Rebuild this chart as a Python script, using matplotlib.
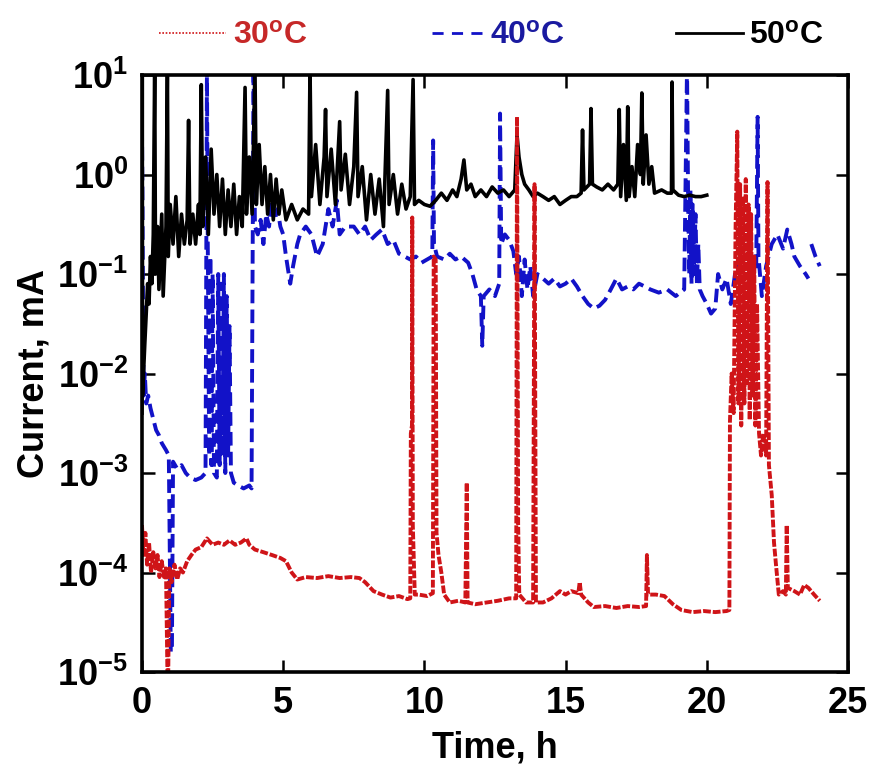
import numpy as np
import matplotlib
matplotlib.use('Agg')
import matplotlib.pyplot as plt
from matplotlib.lines import Line2D
from matplotlib.ticker import NullLocator

# Data ---------------------------------------------------------------------------------
# 30 C (red, dotted)
t30 = [0.00, 0.05, 0.12, 0.18, 0.25, 0.32, 0.40, 0.48, 0.55, 0.62, 0.70, 0.78, 0.85, 0.90, 0.93, 0.97,
       1.05, 1.15, 1.25, 1.35, 1.45, 1.60, 1.75, 1.90, 2.10, 2.30, 2.50, 2.70, 2.90, 3.10, 3.30, 3.50,
       3.70, 3.80, 4.00, 4.30, 4.60, 4.90, 5.10, 5.30, 5.50, 5.80, 6.20, 6.60, 7.00, 7.40, 7.70, 7.90,
       8.20, 8.50, 8.80, 9.10, 9.40, 9.50, 9.52, 9.56, 9.57, 9.59, 9.62, 9.66, 9.80, 10.10, 10.30, 10.33,
       10.40, 10.43, 10.50, 10.60, 10.70, 10.90, 11.20, 11.45, 11.50, 11.53, 11.80, 12.20, 12.60, 13.00,
       13.25, 13.28, 13.32, 13.36, 13.60, 13.85, 13.90, 13.95, 14.20, 14.50, 14.80, 15.00, 15.20, 15.45,
       15.50, 15.55, 15.80, 16.00, 16.40, 16.80, 17.20, 17.60, 17.85, 17.88, 17.92, 18.20, 18.50, 18.80,
       19.10, 19.50, 19.90, 20.30, 20.70, 20.80, 20.82, 20.88, 20.95, 21.02, 21.08, 21.12, 21.18, 21.22,
       21.28, 21.33, 21.38, 21.43, 21.48, 21.52, 21.57, 21.62, 21.68, 21.72, 21.78, 21.85, 21.92, 22.00,
       22.10, 22.15, 22.20, 22.30, 22.38, 22.45, 22.55, 22.70, 22.80, 22.83, 22.87, 23.10, 23.30, 23.45,
       23.60, 23.80, 24.00]
i30 = [3.0e-4, 1.5e-4, 2.5e-4, 1.2e-4, 2.0e-4, 1.0e-4, 1.6e-4, 1.1e-4, 1.5e-4, 9e-5, 1.3e-4, 9e-5,
       1.1e-4, 1.0e-5, 1.0e-5, 1.1e-4, 8e-5, 1.2e-4, 8.5e-5, 1.1e-4, 1.0e-4, 1.3e-4, 1.5e-4, 1.7e-4,
       1.8e-4, 2.2e-4, 1.9e-4, 2.0e-4, 1.9e-4, 2.1e-4, 1.9e-4, 2.0e-4, 2.2e-4, 1.9e-4, 1.7e-4, 1.6e-4,
       1.5e-4, 1.4e-4, 1.3e-4, 1.0e-4, 8.5e-5, 9e-5, 8.8e-5, 9.2e-5, 8.8e-5, 9.0e-5, 8.8e-5, 8.0e-5,
       6.5e-5, 6.0e-5, 5.6e-5, 5.8e-5, 5.4e-5, 5.5e-5, 2.5e-3, 3.0e-3, 0.37, 3e-4, 1.5e-4, 6e-5,
       6.0e-5, 5.8e-5, 6.2e-5, 0.15, 0.14, 2.5e-4, 1.5e-4, 1.0e-4, 6e-5, 5.0e-5, 5.2e-5, 5.0e-5,
       8e-4, 5e-5, 4.8e-5, 5.0e-5, 5.2e-5, 5.5e-5, 5.5e-5, 3.8, 3e-4, 6e-5, 5e-5, 5.0e-5,
       0.8, 5e-5, 5.0e-5, 5.5e-5, 6.5e-5, 6.0e-5, 6.5e-5, 6.2e-5, 8e-5, 6e-5, 5.0e-5, 4.5e-5,
       4.6e-5, 4.4e-5, 4.6e-5, 4.5e-5, 4.6e-5, 1.5e-4, 6.0e-5, 6.0e-5, 5.8e-5, 4.8e-5, 4.2e-5, 4.0e-5,
       4.1e-5, 4.0e-5, 4.1e-5, 4.2e-5, 3.3e-3, 1.0e-2, 4e-3, 0.3, 2.7, 5e-3, 0.8, 3e-3,
       0.6, 5e-3, 0.9, 8e-3, 0.5, 3.4e-3, 0.4, 6e-3, 0.15, 3e-3, 0.05, 2.5e-3, 1.5e-3, 2.5e-3,
       1.5e-3, 0.84, 1.2e-3, 6e-4, 2e-4, 1.2e-4, 6e-5, 6.5e-5, 6e-5, 3e-4, 7e-5, 6.5e-5, 6e-5, 7.5e-5,
       7e-5, 6e-5, 5.2e-5]

# 40 C (blue, dashed)
t40 = [0.00, 0.02, 0.04, 0.06, 0.10, 0.15, 0.22, 0.30, 0.40, 0.50, 0.60, 0.70, 0.85, 0.95, 1.02, 1.06,
       1.10, 1.25, 1.40, 1.55, 1.70, 1.90, 2.10, 2.25, 2.30, 2.33, 2.38, 2.42, 2.46, 2.50, 2.55, 2.65,
       2.70, 2.75, 2.80, 2.85, 2.90, 2.95, 3.00, 3.05, 3.10, 3.15, 3.25, 3.40, 3.60, 3.80, 3.88, 3.95,
       4.00, 4.10, 4.20, 4.30, 4.40, 4.50, 4.60, 4.70, 4.80, 4.90, 5.00, 5.10, 5.25, 5.35, 5.50, 5.60,
       5.80, 6.00, 6.20, 6.40, 6.60, 6.75, 6.90, 7.00, 7.20, 7.50, 7.70, 7.90, 8.10, 8.30, 8.50, 8.70,
       8.90, 9.10, 9.30, 9.50, 9.70, 9.90, 10.10, 10.28, 10.31, 10.34, 10.45, 10.70, 10.90, 11.10, 11.30,
       11.55, 11.70, 11.85, 12.00, 12.05, 12.10, 12.30, 12.50, 12.65, 12.68, 12.72, 12.85, 13.00, 13.15,
       13.25, 13.35, 13.45, 13.55, 13.65, 13.75, 13.85, 14.00, 14.20, 14.40, 14.60, 14.80, 15.00, 15.20,
       15.40, 15.60, 15.80, 16.00, 16.20, 16.40, 16.60, 16.80, 17.00, 17.20, 17.40, 17.60, 17.80, 18.00,
       18.30, 18.60, 18.90, 19.20, 19.30, 19.34, 19.38, 19.42, 19.46, 19.50, 19.55, 19.60, 19.65, 19.70,
       19.75, 19.85, 20.00, 20.15, 20.30, 20.40, 20.55, 20.70, 20.85, 21.00, 21.20, 21.40, 21.60, 21.75,
       21.80, 21.83, 21.95, 22.10, 22.30, 22.50, 22.70, 22.85, 23.00, 23.10, 23.30, 23.50, 23.60, 23.65,
       23.70, 23.85, 24.00]
i40 = [3.0, 0.5, 0.03, 6e-3, 1.0e-2, 5e-3, 6e-3, 4.5e-3, 3.5e-3, 2.7e-3, 2.4e-3, 2.0e-3, 1.7e-3,
       1.5e-3, 1.6e-5, 1.6e-5, 1.3e-3, 1.1e-3, 1.2e-3, 1.0e-3, 9e-4, 8.5e-4, 9e-4, 1.0e-3, 12, 0.2,
       1.5e-3, 0.15, 1.2e-3, 0.1, 1.0e-3, 9e-4, 0.1, 1.2e-3, 0.08, 1.5e-3, 0.1, 1.0e-3, 0.06, 1.5e-3,
       0.03, 1.0e-3, 8e-4, 7.5e-4, 7e-4, 7.5e-4, 7e-4, 12, 0.3, 0.25, 0.35, 0.2, 0.4, 0.3, 0.55, 0.35,
       0.45, 0.3, 0.25, 0.15, 0.08, 0.12, 0.2, 0.25, 0.3, 0.25, 0.15, 0.2, 0.45, 0.3, 0.55, 0.25, 0.3,
       0.3, 0.25, 0.3, 0.22, 0.25, 0.28, 0.2, 0.22, 0.16, 0.15, 0.14, 0.15, 0.13, 0.14, 0.15, 2.2, 0.2,
       0.15, 0.14, 0.16, 0.14, 0.15, 0.13, 0.1, 0.07, 0.06, 0.019, 0.06, 0.07, 0.06, 0.08, 4.1, 0.2,
       0.25, 0.22, 0.17, 0.1, 0.15, 0.06, 0.14, 0.07, 0.12, 0.06, 0.1, 0.09, 0.08, 0.09, 0.075, 0.08,
       0.09, 0.075, 0.06, 0.05, 0.045, 0.048, 0.055, 0.07, 0.09, 0.07, 0.075, 0.07, 0.08, 0.075, 0.07,
       0.065, 0.07, 0.06, 0.07, 12, 0.5, 0.1, 0.7, 0.08, 0.5, 0.1, 0.4, 0.08, 0.2, 0.07, 0.06, 0.05,
       0.04, 0.045, 0.1, 0.07, 0.09, 0.05, 0.1, 0.15, 0.13, 0.1, 0.12, 3.8, 0.15, 0.06, 0.12, 0.2,
       0.25, 0.18, 0.28, 0.2, 0.15, 0.12, 0.1, 0.09, np.nan, 0.2, 0.15, 0.12]

# 50 C (black, solid)
t50 = [0.00, 0.01, 0.02, 0.06, 0.10, 0.15, 0.20, 0.25, 0.30, 0.35, 0.40, 0.45, 0.48, 0.55, 0.60, 0.70,
       0.75, 0.85, 0.90, 0.93, 1.00, 1.10, 1.20, 1.30, 1.40, 1.50, 1.60, 1.65, 1.70, 1.80, 1.90, 2.00,
       2.05, 2.10, 2.15, 2.25, 2.35, 2.45, 2.55, 2.65, 2.75, 2.85, 2.95, 3.05, 3.15, 3.25, 3.35, 3.45,
       3.55, 3.65, 3.70, 3.80, 3.90, 4.00, 4.05, 4.15, 4.25, 4.35, 4.45, 4.55, 4.65, 4.75, 4.85, 4.95,
       5.10, 5.30, 5.50, 5.70, 5.90, 5.95, 6.00, 6.15, 6.30, 6.45, 6.50, 6.55, 6.70, 6.85, 7.00, 7.05,
       7.20, 7.35, 7.50, 7.60, 7.65, 7.80, 7.95, 8.10, 8.25, 8.40, 8.55, 8.70, 8.75, 8.90, 9.05, 9.20,
       9.35, 9.50, 9.60, 9.65, 9.80, 10.00, 10.20, 10.40, 10.60, 10.80, 11.00, 11.15, 11.30, 11.40, 11.50,
       11.65, 11.80, 12.00, 12.20, 12.40, 12.60, 12.80, 13.00, 13.20, 13.28, 13.35, 13.45, 13.55, 13.70,
       13.85, 14.00, 14.20, 14.40, 14.60, 14.80, 15.00, 15.20, 15.40, 15.55, 15.60, 15.65, 15.85, 15.90,
       15.95, 16.10, 16.30, 16.50, 16.70, 16.85, 16.90, 16.95, 17.05, 17.15, 17.20, 17.25, 17.35, 17.45,
       17.55, 17.65, 17.70, 17.75, 17.85, 17.95, 18.05, 18.15, 18.40, 18.60, 18.75, 18.77, 18.80, 19.00,
       19.20, 19.40, 19.60, 19.80, 20.00]
i50 = [4e-3, 12, 6e-3, 0.011, 0.02, 0.04, 0.08, 0.05, 0.15, 0.08, 0.25, 12, 0.1, 0.3, 0.07, 0.4,
       0.06, 0.3, 12, 0.15, 0.5, 0.2, 0.6, 0.15, 0.4, 0.2, 0.35, 3.5, 0.2, 0.4, 0.2, 0.5, 0.25, 8,
       0.3, 1.5, 0.25, 1.8, 0.4, 1.0, 0.3, 0.9, 0.25, 0.7, 0.3, 0.8, 0.25, 0.6, 0.3, 7.5, 0.4, 1.5,
       0.4, 12, 0.5, 2.0, 0.5, 1.2, 0.4, 1.0, 0.35, 0.9, 0.4, 0.7, 0.35, 0.5, 0.35, 0.45, 0.4, 12,
       0.6, 2.0, 0.5, 1.5, 4.5, 0.6, 1.8, 0.5, 3.4, 0.7, 1.6, 0.5, 1.2, 6.7, 0.6, 1.2, 0.35, 1.0,
       0.4, 0.9, 0.3, 7, 0.5, 1.0, 0.4, 0.8, 0.45, 0.6, 9, 0.5, 0.55, 0.5, 0.48, 0.55, 0.65, 0.55,
       0.7, 0.6, 0.9, 1.4, 0.7, 0.8, 0.6, 0.7, 0.6, 0.75, 0.65, 0.7, 0.6, 0.7, 2.5, 1.5, 1.0, 0.8,
       0.7, 0.6, 0.65, 0.6, 0.55, 0.6, 0.5, 0.55, 0.6, 0.6, 0.65, 2.8, 0.7, 0.8, 4.6, 0.8, 0.75, 0.7,
       0.8, 0.7, 0.8, 4.5, 0.6, 2.0, 0.55, 4.8, 0.6, 1.2, 0.6, 2.0, 1.0, 6.6, 0.8, 2.5, 0.8, 1.2,
       0.65, 0.7, 0.65, 0.65, 8.5, 0.7, 0.62, 0.6, 0.62, 0.6, 0.6, 0.62]

labels = ['30$^{o}$C', '40$^{o}$C', '50$^{o}$C']
yticks = [1e-5, 1e-4, 1e-3, 1e-2, 1e-1, 1e0, 1e1]
ytick_labels = ['$10^{-5}$', '$10^{-4}$', '$10^{-3}$', '$10^{-2}$', '$10^{-1}$', '$10^{0}$', '$10^{1}$']
xticks = [0, 5, 10, 15, 20, 25]

red = '#cf1418'
blue = '#1212c8'
black = '#000000'

# Figure ------------------------------------------------------------------------------
plt.rcParams['font.family'] = ['Liberation Sans', 'DejaVu Sans']
plt.rcParams['font.weight'] = 'bold'
plt.rcParams['mathtext.fontset'] = 'custom'
plt.rcParams['mathtext.rm'] = 'Liberation Sans:bold'
plt.rcParams['mathtext.bf'] = 'Liberation Sans:bold'
plt.rcParams['mathtext.default'] = 'regular'

fig = plt.figure(figsize=(8.7, 7.64), dpi=100)
ax = fig.add_axes([0.1632, 0.1204, 0.8115, 0.7814])

ax.plot(t40, i40, color=blue, lw=2.8, linestyle=(0, (3.5, 1.6)))
ax.plot(t50, i50, color=black, lw=2.6)
ax.plot(t30, i30, color=red, lw=2.8, linestyle=(0, (2.0, 0.5)))

ax.set_yscale('log')
ax.set_xlim(0, 25)
ax.set_ylim(1e-5, 1e1)
ax.set_xticks(xticks)
ax.set_xticklabels([str(x) for x in xticks])
ax.set_yticks(yticks)
ax.set_yticklabels(ytick_labels)
ax.yaxis.set_minor_locator(NullLocator())
ax.xaxis.set_minor_locator(NullLocator())
ax.tick_params(direction='in', length=9, width=1.8, top=True, right=True,
               labelsize=26, pad=10)
for s in ax.spines.values():
    s.set_linewidth(2.6)

ax.set_xlabel('Time, h', fontsize=26, fontweight='bold', labelpad=7)
ax.set_ylabel('Current, mA', fontsize=26, fontweight='bold', labelpad=4)

# Legend: three separate entries placed across the top
handles = [Line2D([], [], color=red, lw=1.2, linestyle=(0, (1, 1))),
           Line2D([], [], color=blue, lw=2.0, linestyle=(0, (4, 3))),
           Line2D([], [], color=black, lw=2.0)]
lcolors = ['#c62828', '#1a1aa0', black]
xpos = [0.183, 0.497, 0.777]
hlen = [2.1, 1.6, 2.1]
for h, lab, c, x, hl in zip(handles, labels, lcolors, xpos, hlen):
    fig.legend(handles=[h], labels=[lab], loc='center left', bbox_to_anchor=(x, 0.953),
               frameon=False, fontsize=23, handlelength=hl, handletextpad=0.2,
               labelcolor=c, borderaxespad=0, borderpad=0)

fig.savefig('out.png', dpi=100)
